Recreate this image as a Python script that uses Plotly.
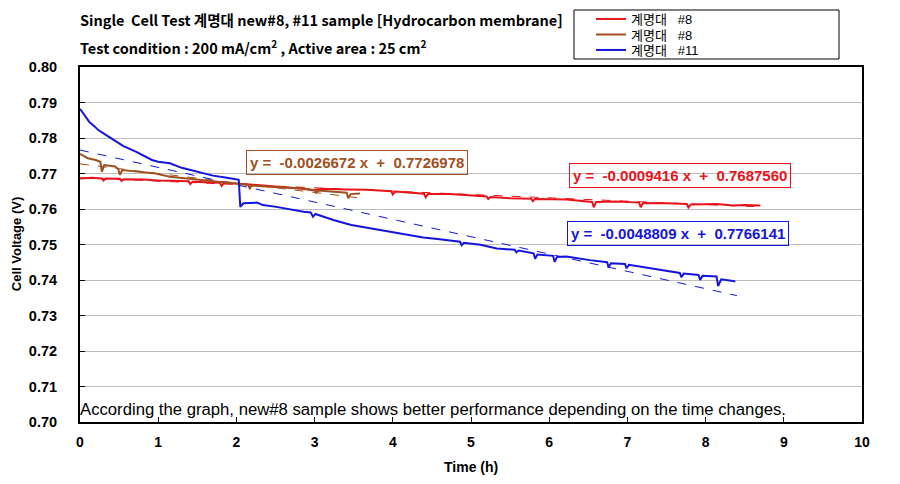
import plotly.graph_objects as go

# ---------------- data ----------------
red_x = [0.00, 0.15, 0.28, 0.30, 0.33, 0.51, 0.53, 0.56, 0.80, 1.00, 1.39, 1.41, 1.44, 1.79, 1.81, 1.84,
         2.00, 2.30, 2.60, 2.81, 2.98, 3.10, 3.40, 3.67, 3.98, 4.00, 4.03, 4.40, 4.42, 4.45, 4.73, 5.00,
         5.20, 5.22, 5.25, 5.50, 5.77, 5.79, 5.82, 6.22, 6.55, 6.57, 6.60, 6.86, 7.15, 7.17, 7.20, 7.50,
         7.76, 7.78, 7.81, 8.14, 8.35, 8.50, 8.70]
red_y = [0.7686, 0.7688, 0.7686, 0.7680, 0.7686, 0.7685, 0.7679, 0.7684, 0.7683, 0.7680, 0.7678, 0.7670,
         0.7677, 0.7674, 0.7665, 0.7673, 0.7672, 0.7667, 0.7661, 0.7658, 0.7653, 0.7657, 0.7655, 0.7654,
         0.7650, 0.7641, 0.7649, 0.7643, 0.7633, 0.7642, 0.7642, 0.7637, 0.7635, 0.7628, 0.7634, 0.7630,
         0.7629, 0.7622, 0.7628, 0.7627, 0.7620, 0.7605, 0.7620, 0.7621, 0.7618, 0.7605, 0.7617, 0.7616,
         0.7614, 0.7604, 0.7613, 0.7614, 0.7610, 0.7611, 0.7610]

brown_x = [0.00, 0.05, 0.10, 0.20, 0.26, 0.28, 0.31, 0.45, 0.49, 0.51, 0.54, 0.70, 0.94, 1.15, 1.40, 1.58,
           1.80, 2.00, 2.15, 2.17, 2.20, 2.43, 2.70, 2.86, 3.00, 3.02, 3.05, 3.28, 3.41, 3.43, 3.46, 3.58]
brown_y = [0.7755, 0.7748, 0.7743, 0.7738, 0.7733, 0.7705, 0.7724, 0.7720, 0.7712, 0.7696, 0.7710, 0.7706,
           0.7701, 0.7691, 0.7685, 0.7680, 0.7676, 0.7672, 0.7668, 0.7658, 0.7666, 0.7663, 0.7660, 0.7658,
           0.7653, 0.7646, 0.7652, 0.7649, 0.7646, 0.7630, 0.7642, 0.7644]

blue_x = [0.00, 0.06, 0.12, 0.19, 0.23, 0.32, 0.43, 0.55, 0.72, 0.85, 0.92, 1.00, 1.15, 1.30, 1.49, 1.58,
          1.70, 1.88, 2.00, 2.03, 2.05, 2.09, 2.26, 2.34, 2.51, 2.70, 2.86, 2.95, 2.98, 3.01, 3.24, 3.47,
          3.71, 3.92, 4.18, 4.39, 4.60, 4.86, 4.88, 4.91, 5.12, 5.33, 5.56, 5.58, 5.61, 5.80, 5.82, 5.85,
          6.05, 6.07, 6.10, 6.22, 6.52, 6.74, 6.76, 6.79, 6.97, 6.99, 7.02, 7.29, 7.50, 7.67, 7.69, 7.72,
          7.91, 7.93, 7.96, 8.14, 8.16, 8.20, 8.35, 8.38]
blue_y = [0.7882, 0.7862, 0.7845, 0.7832, 0.7823, 0.7810, 0.7794, 0.7778, 0.7761, 0.7745, 0.7738, 0.7733,
          0.7729, 0.7716, 0.7705, 0.7699, 0.7694, 0.7688, 0.7684, 0.7682, 0.7606, 0.7616, 0.7618, 0.7611,
          0.7606, 0.7598, 0.7592, 0.7590, 0.7578, 0.7586, 0.7569, 0.7555, 0.7546, 0.7536, 0.7527, 0.7520,
          0.7515, 0.7508, 0.7498, 0.7505, 0.7499, 0.7489, 0.7485, 0.7478, 0.7483, 0.7475, 0.7460, 0.7472,
          0.7468, 0.7451, 0.7465, 0.7466, 0.7456, 0.7450, 0.7436, 0.7447, 0.7445, 0.7433, 0.7443, 0.7433,
          0.7426, 0.7420, 0.7408, 0.7418, 0.7414, 0.7400, 0.7412, 0.7410, 0.7383, 0.7402, 0.7397, 0.7396]

# linear trend line end points
red_trend_x = [0.0, 8.70]
red_trend_y = [0.7688, 0.7606]
brown_trend_x = [0.0, 3.58]
brown_trend_y = [0.7727, 0.7631]
blue_trend_x = [0.0, 8.40]
blue_trend_y = [0.7766, 0.7356]

series_names = ["계명대   #8", "계명대   #8", "계명대   #11"]
equations = ["y =  -0.0009416 x  +  0.7687560",
             "y =  -0.0026672 x  +  0.7726978",
             "y =  -0.0048809 x  +  0.7766141"]
x_ticks = [0, 1, 2, 3, 4, 5, 6, 7, 8, 9, 10]
y_ticks = [0.70, 0.71, 0.72, 0.73, 0.74, 0.75, 0.76, 0.77, 0.78, 0.79, 0.80]

RED = "#E8141C"
BROWN = "#A0501E"
BLUE = "#1414DC"
FONT = "Liberation Sans, Noto Sans CJK KR, sans-serif"
KFONT = "Noto Sans CJK KR, Liberation Sans, sans-serif"

fig = go.Figure()

# trend lines (dashed)
fig.add_trace(go.Scatter(x=red_trend_x, y=red_trend_y, mode="lines", showlegend=False,
                         line=dict(color=RED, width=1, dash="dash"), hoverinfo="skip"))
fig.add_trace(go.Scatter(x=brown_trend_x, y=brown_trend_y, mode="lines", showlegend=False,
                         line=dict(color=BROWN, width=1, dash="dash"), hoverinfo="skip"))
fig.add_trace(go.Scatter(x=blue_trend_x, y=blue_trend_y, mode="lines", showlegend=False,
                         line=dict(color=BLUE, width=1, dash="dash"), hoverinfo="skip"))

# data lines (each in its own legend so the rows can sit tightly like the original)
fig.add_trace(go.Scatter(x=red_x, y=red_y, mode="lines", name=series_names[0], legend="legend",
                         line=dict(color=RED, width=2)))
fig.add_trace(go.Scatter(x=brown_x, y=brown_y, mode="lines", name=series_names[1], legend="legend2",
                         line=dict(color=BROWN, width=2)))
fig.add_trace(go.Scatter(x=blue_x, y=blue_y, mode="lines", name=series_names[2], legend="legend3",
                         line=dict(color=BLUE, width=2)))

annotations = []
# equation boxes
for txt, col, ax, ay in [(equations[0], RED, 7.67, 0.7693),
                         (equations[1], BROWN, 3.54, 0.7732),
                         (equations[2], BLUE, 7.65, 0.7530)]:
    annotations.append(dict(x=ax, y=ay, xref="x", yref="y", text="<b>" + txt + "</b>", showarrow=False,
                            font=dict(family=FONT, size=15, color=col), bordercolor=col, borderwidth=1,
                            borderpad=3, bgcolor="rgba(255,255,255,0)"))

# titles
annotations.append(dict(x=-0.003, y=1.127 + 2 / 355, xref="paper", yref="paper", xanchor="left",
                        yanchor="middle", showarrow=False,
                        text="<b>Single  Cell Test 계명대 new#8, #11 sample [Hydrocarbon membrane]</b>",
                        font=dict(family=KFONT, size=14.5, color="black")))
annotations.append(dict(x=-0.003, y=1.056, xref="paper", yref="paper", xanchor="left", yanchor="middle",
                        showarrow=False,
                        text="<b>Test condition : 200 mA/cm<sup>2</sup> , Active area : 25 cm<sup>2</sup></b>",
                        font=dict(family=KFONT, size=14.5, color="black")))
# note
annotations.append(dict(x=-0.003, y=0.034, xref="paper", yref="paper", xanchor="left", yanchor="middle",
                        showarrow=False,
                        text="According the graph, new#8 sample shows better performance depending on the time changes.",
                        font=dict(family="Liberation Sans, sans-serif", size=16.7, color="black")))
# axis titles
annotations.append(dict(x=0.5, y=-0.128, xref="paper", yref="paper", xanchor="center", yanchor="middle",
                        showarrow=False, text="<b>Time (h)</b>",
                        font=dict(family=FONT, size=14, color="black")))
annotations.append(dict(x=-0.081, y=0.5, xref="paper", yref="paper", xanchor="center", yanchor="middle",
                        showarrow=False, text="<b>Cell Voltage (V)</b>", textangle=-90,
                        font=dict(family=FONT, size=13, color="black")))

shapes = [
    # legend frame
    dict(type="rect", xref="paper", yref="paper", x0=0.6317, x1=0.9706, y0=1.0225, y1=1.1606,
         line=dict(color="black", width=1), fillcolor="white", layer="below"),
]

leg_common = dict(x=0.6535, xanchor="left", yanchor="middle", bgcolor="rgba(0,0,0,0)", borderwidth=0,
                  font=dict(family=FONT, size=13, color="black"), itemwidth=30)

fig.update_layout(
    width=900, height=484,
    margin=dict(l=80, r=38, t=67, b=62, autoexpand=False),
    paper_bgcolor="white", plot_bgcolor="white",
    showlegend=True,
    legend=dict(y=1 + (67 - 19) / 355, **leg_common),
    legend2=dict(y=1 + (67 - 34.5) / 355, **leg_common),
    legend3=dict(y=1 + (67 - 50) / 355, **leg_common),
    annotations=annotations,
    shapes=shapes,
    font=dict(family=FONT, color="black"),
)
fig.update_xaxes(range=[0, 10], tickvals=x_ticks, ticktext=[f"<b>{v}</b>" for v in x_ticks],
                 showgrid=False, zeroline=False, showline=True, linecolor="black", linewidth=2,
                 mirror=True, ticks="inside", ticklen=5, tickcolor="black", tickwidth=1,
                 automargin=False, ticklabelstandoff=6,
                 tickfont=dict(family=FONT, size=14, color="black"))
fig.update_yaxes(range=[0.70, 0.80], tickvals=y_ticks, ticktext=[f"<b>{v:.2f}</b>" for v in y_ticks],
                 showgrid=True, gridcolor="#BEBEBE", gridwidth=1, zeroline=False, showline=True,
                 linecolor="black", linewidth=2, mirror=True, ticks="inside", ticklen=5,
                 tickcolor="black", tickwidth=1, ticklabelstandoff=18, automargin=False,
                 tickfont=dict(family=FONT, size=14.5, color="black"))

fig.write_html("out.html", config={"displayModeBar": False},
               post_script="document.body.style.margin='0';")
